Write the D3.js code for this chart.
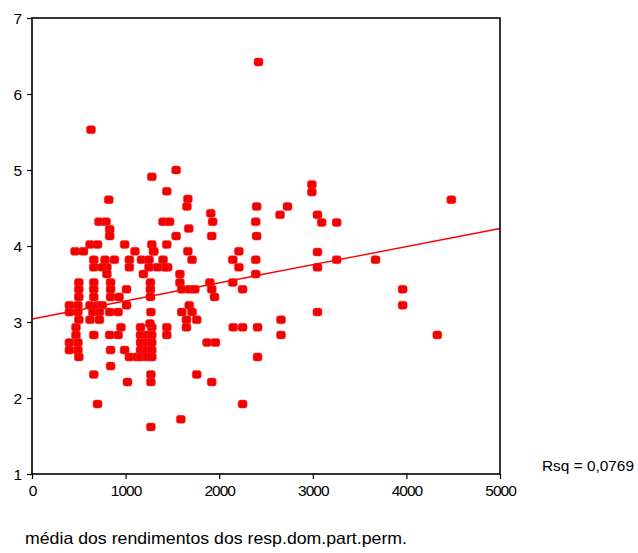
<!DOCTYPE html>
<html>
<head>
<meta charset="utf-8">
<script src="https://cdn.jsdelivr.net/npm/d3@7"></script>
<style>
    body { margin: 0; background: #fff; }
    text { font-family: "Liberation Sans", Arial, sans-serif; fill: #000; }
</style>
</head>
<body>
<svg id="chart" width="638" height="553"></svg>
<script>
// income (x) vs value (y)
const rendimento = [
    2420, 630, 1540, 1280, 1440, 820, 1665, 1655, 1910, 1930, 1400, 1470, 1675, 1540, 1920, 1440,
    1665, 1710, 2210, 2145, 2210, 1400, 1450, 1580, 2400, 2390, 2400, 2390, 2390,
    2990, 2990, 2730, 2650, 3050, 3095, 3255, 3050, 3050, 3255, 3670, 4480, 3960, 3960, 3050,
    2660, 2660, 2410, 4330, 2410,
    1580, 1600, 1680, 1740, 1900, 1920, 1950, 2145, 2250, 1680, 1600, 1710, 1650, 1760, 1650,
    1440, 1440, 1870, 1960, 2150, 2250, 1760, 1920, 2250, 1590, 1300, 1420,
    620, 700, 990, 1280, 715, 790, 830, 830, 460, 550, 1100, 1300,
    660, 660, 780, 880, 1040, 1040, 1170, 1250, 1250, 1340, 800, 800, 750, 1190,
    500, 500, 500, 660, 660, 660, 840, 840, 840, 930, 1010, 1010, 1265, 1265, 1265,
    400, 490, 400, 490, 620, 700, 750, 650, 720, 830, 920, 1270,
    500, 620, 720, 470, 470, 660, 830, 920, 950,
    400, 490, 400, 490, 500, 840, 840, 660, 700,
    990, 1040, 1120, 1020,
    1160, 1160, 1160, 1160, 1160, 1230, 1230, 1230, 1230, 1280, 1280, 1280, 1280, 1280, 1260,
    1270, 1270, 1270
];
const valores = [
    6.42, 5.53, 5.0, 4.91, 4.72, 4.61, 4.62, 4.52, 4.43, 4.32, 4.32, 4.32, 4.23, 4.13, 4.13, 4.02,
    3.93, 3.82, 3.93, 3.82, 3.72, 3.82, 3.72, 3.63, 4.52, 4.32, 4.13, 3.82, 3.63,
    4.81, 4.71, 4.52, 4.41, 4.41, 4.31, 4.31, 3.92, 3.72, 3.82, 3.82, 4.61, 3.43, 3.22, 3.13,
    3.03, 2.83, 2.93, 2.83, 2.54,
    3.52, 3.43, 3.43, 3.43, 3.52, 3.43, 3.33, 3.52, 3.43, 3.22, 3.13, 3.13, 3.03, 3.03, 2.93,
    2.93, 2.83, 2.73, 2.73, 2.93, 2.93, 2.31, 2.21, 1.92, 1.72, 3.93, 3.72,
    4.02, 4.02, 4.02, 4.02, 4.32, 4.32, 4.22, 4.13, 3.93, 3.93, 3.93, 3.93,
    3.82, 3.72, 3.82, 3.82, 3.82, 3.72, 3.82, 3.82, 3.72, 3.72, 3.72, 3.63, 3.72, 3.63,
    3.52, 3.43, 3.33, 3.52, 3.43, 3.33, 3.52, 3.43, 3.33, 3.33, 3.43, 3.22, 3.52, 3.43, 3.33,
    3.22, 3.22, 3.13, 3.13, 3.22, 3.22, 3.22, 3.13, 3.13, 3.13, 3.13, 3.13,
    3.03, 3.03, 3.03, 2.93, 2.83, 2.83, 2.83, 2.83, 2.93,
    2.73, 2.73, 2.63, 2.63, 2.54, 2.63, 2.42, 2.31, 1.92,
    2.63, 2.54, 2.54, 2.21,
    2.93, 2.83, 2.73, 2.63, 2.54, 2.83, 2.73, 2.63, 2.54, 2.93, 2.83, 2.73, 2.63, 2.54, 2.98,
    2.31, 2.21, 1.62
];

// linear fit end points (x = 0 and x = 5000)
const fitX = [0, 5000];
const fitY = [3.04, 4.23];
const rsqLabel = "Rsq = 0,0769";

const xTicks = [0, 1000, 2000, 3000, 4000, 5000];
const yTicks = [1, 2, 3, 4, 5, 6, 7];
const xTitle = "média dos rendimentos dos resp.dom.part.perm.";

let svg = d3.select("#chart");
const marginLeft = 32, marginTop = 18, plotW = 468, plotH = 456;

let x = d3.scaleLinear().domain([0, 5000]).range([marginLeft, marginLeft + plotW]);
let y = d3.scaleLinear().domain([1, 7]).range([marginTop + plotH, marginTop]);

// hatch texture of the markers
let defs = svg.append("defs");
let pat = defs.append("pattern")
    .attr("id", "hatch")
    .attr("patternUnits", "userSpaceOnUse")
    .attr("width", 3)
    .attr("height", 4);
pat.append("rect").attr("width", 3).attr("height", 4).attr("fill", "#ff0000");
pat.append("path")
    .attr("d", "M1.5,0 Q2.6,1 1.5,2 Q0.4,3 1.5,4")
    .attr("fill", "none")
    .attr("stroke", "#c80000")
    .attr("stroke-width", 0.7);

// points
let pts = rendimento.map((v, i) => ({rx: v, val: valores[i]}));
svg.append("g")
    .selectAll("rect")
    .data(pts)
    .enter()
    .append("rect")
    .attr("x", d => x(d.rx) - 4.5)
    .attr("y", d => y(d.val) - 4)
    .attr("width", 9)
    .attr("height", 8)
    .attr("rx", 2.5)
    .attr("fill", "url(#hatch)")
    .attr("stroke", "#ff3030")
    .attr("stroke-width", 0.5);

// fit line
svg.append("path")
    .datum(fitX.map((v, i) => [v, fitY[i]]))
    .attr("d", d3.line().x(d => x(d[0])).y(d => y(d[1])))
    .attr("fill", "none")
    .attr("stroke", "#ff0000")
    .attr("stroke-width", 1.4);

// axes
let xAxis = svg.append("g")
    .attr("transform", `translate(0,${marginTop + plotH})`)
    .call(d3.axisBottom(x).tickValues(xTicks).tickSize(5).tickPadding(6).tickFormat(d3.format("d")));
let yAxis = svg.append("g")
    .attr("transform", `translate(${marginLeft},0)`)
    .call(d3.axisLeft(y).tickValues(yTicks).tickSize(5).tickPadding(6).tickFormat(d3.format("d")));

[xAxis, yAxis].forEach(function (g) {
    g.select(".domain").remove();
    g.selectAll("line").attr("stroke", "#000").attr("stroke-width", 1.2);
    g.selectAll("text")
        .style("font-family", "'Liberation Sans', Arial, sans-serif")
        .style("font-size", "15.5px")
        .style("letter-spacing", "-1px")
        .attr("fill", "#000");
});
yAxis.selectAll("text").attr("dy", "0.36em");

// frame
svg.append("rect")
    .attr("x", marginLeft)
    .attr("y", marginTop)
    .attr("width", plotW)
    .attr("height", plotH)
    .attr("fill", "none")
    .attr("stroke", "#000")
    .attr("stroke-width", 1.6);

svg.append("text")
    .attr("x", 542)
    .attr("y", 471)
    .attr("textLength", 92)
    .attr("lengthAdjust", "spacingAndGlyphs")
    .style("font-size", "14.5px")
    .text(rsqLabel);

svg.append("text")
    .attr("x", 25)
    .attr("y", 544)
    .attr("textLength", 382)
    .attr("lengthAdjust", "spacingAndGlyphs")
    .style("font-size", "16.5px")
    .text(xTitle);
</script>
</body>
</html>
